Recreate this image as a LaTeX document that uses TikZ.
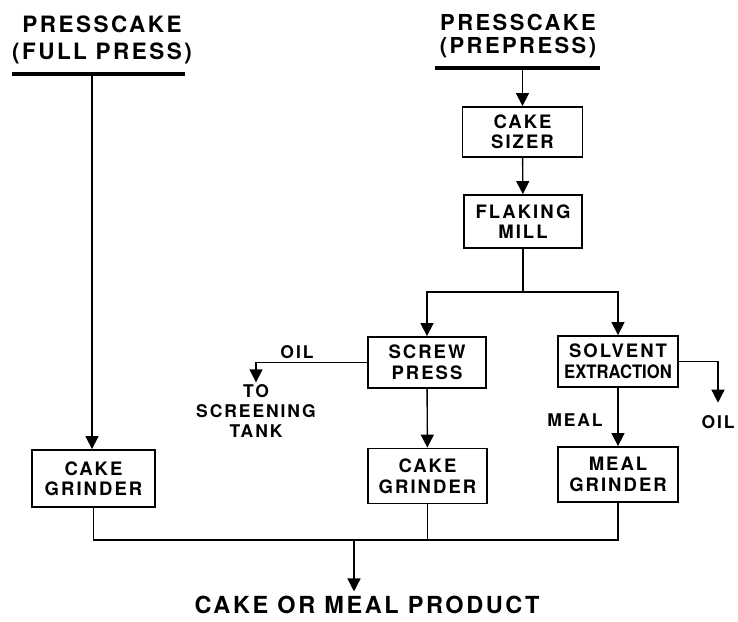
\documentclass[tikz,border=0pt]{standalone}
\usepackage{fontspec}
\setmainfont{TeX Gyre Heros}
\newfontfamily\spaced[LetterSpace=11]{TeX Gyre Heros}
\usetikzlibrary{arrows.meta}
\begin{document}
\begin{tikzpicture}
[x=1pt,y=-1pt,line width=1.4pt,
b/.style={draw,line width=1.8pt,align=center,inner sep=0pt,font=\spaced\bfseries\fontsize{18.5}{20.5}\selectfont},
t/.style={align=center,inner sep=0pt,font=\spaced\bfseries\fontsize{17.5}{20}\selectfont},
h/.style={align=center,inner sep=0pt,font=\spaced\bfseries\fontsize{22.5}{27}\selectfont},
a/.style={-{Triangle[width=13pt,length=13pt]}}]
\useasboundingbox (0,0) rectangle (738,621);
% headers
\node(fp) at (102,40)[h]{PRESSCAKE\\(FULL PRESS)};
\node(pp) at (518,36)[h,font=\spaced\bfseries\fontsize{22}{23}\selectfont]{PRESSCAKE\\(PREPRESS)};
\draw[line width=4.5pt] (12,74) -- (185,74);\draw[line width=4.5pt] (435,68) -- (600,68);
\coordinate(u1) at (92,74);\coordinate(u2) at (522.5,68);
% boxes
\node(sz) at (522.5,132)[b,minimum width=120pt,minimum height=50pt]{CAKE\\SIZER};
\node(fm) at (523,221.5)[b,minimum width=118pt,minimum height=53pt]{FLAKING\\MILL};
\node(sp) at (427,362.5)[b,minimum width=118pt,minimum height=51pt]{SCREW\\PRESS};
\node(se) at (618,361.5)[b,minimum width=120pt,minimum height=51pt]{SOLVENT\\{\fontspec{TeX Gyre Heros}\bfseries\scalebox{.9}[1]{EXTRACTION}}};
\node(cg1) at (93.5,478.5)[b,minimum width=123pt,minimum height=57pt]{CAKE\\GRINDER};
\node(cg2) at (427.5,476)[b,minimum width=119pt,minimum height=55pt]{CAKE\\GRINDER};
\node(mg) at (618,474.5)[b,minimum width=120pt,minimum height=55pt]{MEAL\\GRINDER};
% labels
\node(o1) at (297,352)[t]{OIL};\node(ts) at (256,411.5)[t]{TO\\SCREENING\\TANK};
\node(ml) at (575,420)[t]{MEAL};\node(o2) at (718,422)[t]{OIL};
\node(pr) at (367,605)[h,font=\spaced\bfseries\fontsize{23.5}{26}\selectfont]{CAKE OR MEAL PRODUCT};
\coordinate(j) at (523,292);\coordinate(m) at (354,540);
% connectors
\draw[a] (u1) -- (u1 |- cg1.north);\draw[a] (u2) -- (sz);\draw[a] (sz) -- (fm);
\draw (fm) -- (j);\draw[a] (j) -| (sp);\draw[a] (j) -| (se);
\draw[a] (sp) -- (cg2);\draw[a] (se) -- (mg);
\draw[a,shorten >=2pt] (sp.west) -| (ts);\draw[a,shorten >=12pt] (se.east) -| (o2);
\draw (cg1) |- (m) -| (mg);\draw (cg2) -- (cg2 |- m);
\draw[a,shorten >=4pt] (m) -- (m |- pr.north);
\end{tikzpicture}
\end{document}
